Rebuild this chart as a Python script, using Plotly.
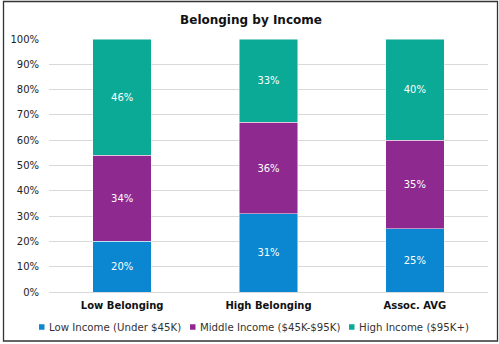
import plotly.graph_objects as go

categories = ["Low Belonging", "High Belonging", "Assoc. AVG"]
series_names = ["Low Income (Under $45K)", "Middle Income ($45K-$95K)", "High Income ($95K+)"]
low_income = [0.20, 0.31, 0.25]
middle_income = [0.34, 0.36, 0.35]
high_income = [0.46, 0.33, 0.40]
colors = ["#0A87D0", "#8E2A8F", "#0AAA96"]
tick_vals = [i / 10 for i in range(11)]
tick_text = [f"{i*10}%" for i in range(11)]

W, H = 499, 344
ml, mr, mt, mb = 49, 11, 39, 52

fig = go.Figure()
for name, vals, col in zip(series_names, [low_income, middle_income, high_income], colors):
    fig.add_trace(go.Bar(
        x=categories, y=vals, name=name,
        marker=dict(color=col, line=dict(color="rgba(255,255,255,0.6)", width=0.8)),
        text=[f"{round(v*100)}%" for v in vals],
        textposition="inside", insidetextanchor="middle",
        textfont=dict(color="white", size=10, family="DejaVu Sans"),
        width=0.4,
    ))

pw = W - ml - mr
ph = H - mt - mb
def px(x):
    return (x - ml) / pw
def py(y):
    return (H - mb - y) / ph

# outer frame
fig.add_shape(type="rect", xref="paper", yref="paper",
              x0=px(3.5), x1=px(497.5), y0=py(341), y1=py(1.5),
              line=dict(color="#333333", width=1.3), fillcolor="rgba(0,0,0,0)", layer="below")

# manual legend
leg_sq_x = [39, 190, 349]
leg_y = 327
for name, col, sx in zip(series_names, colors, leg_sq_x):
    fig.add_shape(type="rect", xref="paper", yref="paper",
                  x0=px(sx), x1=px(sx + 5.5), y0=py(leg_y + 2.75), y1=py(leg_y - 2.75),
                  line=dict(width=0), fillcolor=col)
    fig.add_annotation(xref="paper", yref="paper", x=px(sx + 7.5), y=py(leg_y),
                       xanchor="left", yanchor="middle", showarrow=False,
                       text=name, font=dict(size=10.2, color="#333333", family="DejaVu Sans"))

fig.update_layout(
    width=W, height=H,
    barmode="stack",
    margin=dict(l=ml, r=mr, t=mt, b=mb),
    paper_bgcolor="white", plot_bgcolor="white",
    font=dict(family="DejaVu Sans", size=10, color="#222222"),
    title=dict(text="<b>Belonging by Income</b>", x=251 / W, xanchor="center", xref="container",
               y=1 - 19.5 / H, yanchor="middle", font=dict(size=12, color="#111111")),
    showlegend=False,
)
fig.update_xaxes(showgrid=False, showline=True, linecolor="#d9d9d9", ticks="",
                 ticklabelstandoff=4,
                 tickfont=dict(size=10, family="DejaVu Sans", color="#111111"),
                 tickprefix="<b>", ticksuffix="</b>")
fig.update_yaxes(range=[0, 1], tickvals=tick_vals, ticktext=tick_text,
                 showgrid=True, gridcolor="#d9d9d9", gridwidth=1, zeroline=False,
                 showline=False, ticks="", ticklen=0, ticklabelstandoff=9,
                 tickfont=dict(size=10, color="#222222"))

fig.write_html("out.html")
